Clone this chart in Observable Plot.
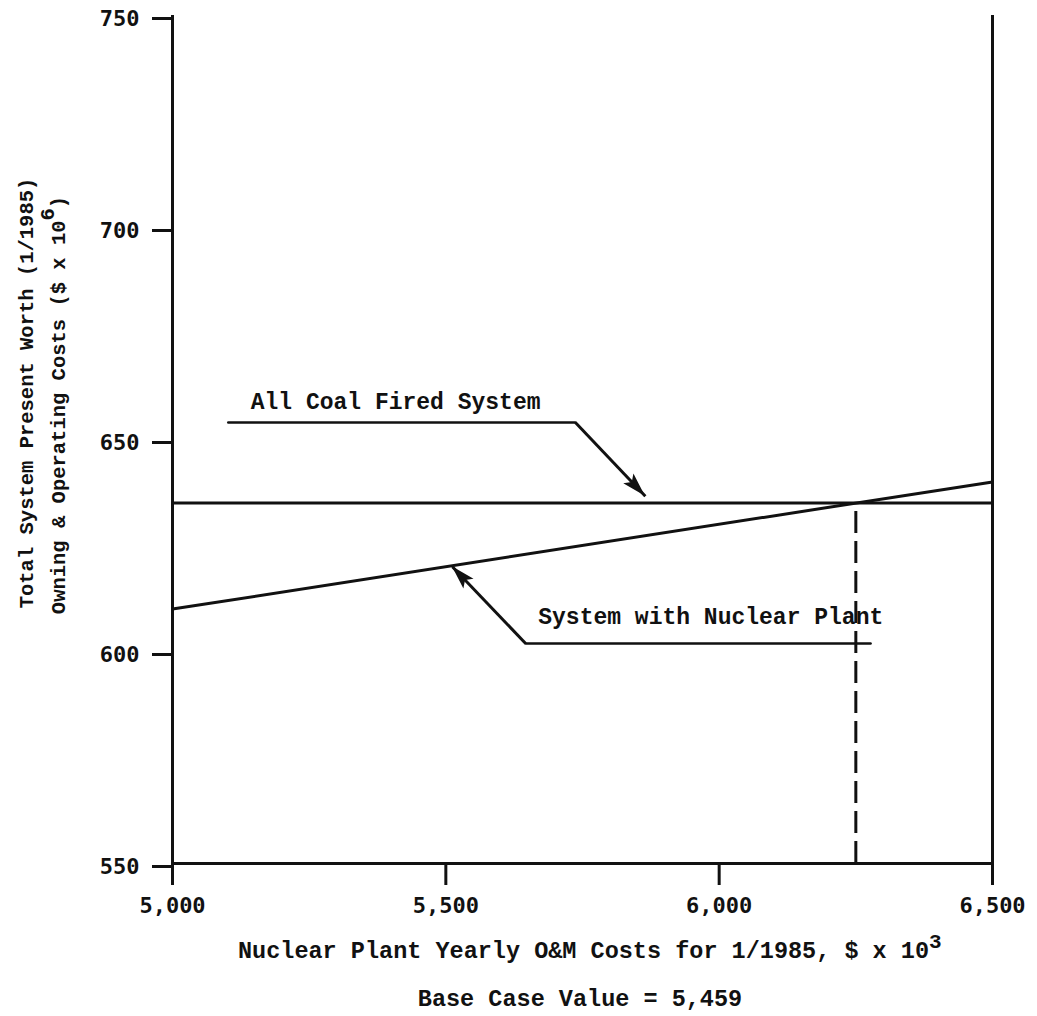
<!DOCTYPE html>
<html>
<head>
<meta charset="utf-8">
<script src="https://cdn.jsdelivr.net/npm/d3@7"></script>
<script src="https://cdn.jsdelivr.net/npm/@observablehq/plot@0.6"></script>
<style>
  html, body { margin: 0; padding: 0; background: #fff; }
  #chart svg { display: block; }
</style>
</head>
<body>
<div id="chart"></div>
<script>
// ---- data ----
const omCost = [5000, 6500];                 // Nuclear plant yearly O&M costs, $ x 10^3
const coalSystem = [635, 635];               // All coal fired system, $ x 10^6
const nuclearSystem = [610, 640];            // System with nuclear plant, $ x 10^6
const breakEven = {x: 6250, y: 635};
const xTicks = [5000, 5500, 6000, 6500];
const yTicks = [550, 600, 650, 700, 750];
const xDomain = [5000, 6500];
const yDomain = [550, 750];
const seriesLabels = ["All Coal Fired System", "System with Nuclear Plant"];
const xTitle = "Nuclear Plant Yearly O&M Costs for 1/1985, $ x 10";
const xTitleSup = "3";
const baseCase = "Base Case Value = 5,459";
const yTitle1 = "Total System Present Worth (1/1985)";
const yTitle2 = "Owning & Operating Costs ($ x 10";
const yTitle2Sup = "6";

// annotation anchors (data coordinates)
const coalLabel = {x: 5143, y: 657.3};
const coalLeader = [{x: 5102, y: 654.0}, {x: 5737, y: 654.0}];
const coalArrow = {x1: 5737, y1: 654.0, x2: 5865, y2: 636.6};
const nucLabel = {x: 5669, y: 606.5};
const nucLeader = [{x: 6277, y: 601.9}, {x: 5646, y: 601.9}];
const nucArrow = {x1: 5646, y1: 601.9, x2: 5512, y2: 620.0};
const arrows = [coalArrow, nucArrow];

const coalData = omCost.map((x, i) => ({x, y: coalSystem[i]}));
const nucData = omCost.map((x, i) => ({x, y: nuclearSystem[i]}));

const mono = "'Liberation Mono', 'DejaVu Sans Mono', monospace";
const tickFont = "'DejaVu Sans Mono', monospace";
const ink = "#111";

// filled arrowheads computed through the scales
const arrowHeads = (index, scales) => {
  const g = d3.create("svg:g").attr("fill", ink);
  for (const a of arrows) {
    const x1 = scales.x(a.x1), y1 = scales.y(a.y1), x2 = scales.x(a.x2), y2 = scales.y(a.y2);
    const dx = x2 - x1, dy = y2 - y1, L = Math.hypot(dx, dy);
    const ux = dx / L, uy = dy / L, len = 24, hw = 7;
    const bx = x2 - ux * len, by = y2 - uy * len;
    g.append("path").attr("d",
      `M${x2},${y2}L${bx - uy * hw},${by + ux * hw}L${bx + ux * 5},${by + uy * 5}L${bx + uy * hw},${by - ux * hw}Z`);
  }
  return g.node();
};

const titles = (index, scales, values, dims) => {
  const g = d3.create("svg:g").attr("fill", ink).attr("font-family", mono)
    .attr("font-weight", "bold").attr("text-anchor", "start");
  // x title
  const t = g.append("text").attr("x", 238).attr("y", dims.height - 58)
    .attr("font-size", 23.5).attr("text-anchor", "start");
  t.append("tspan").text(xTitle);
  t.append("tspan").attr("dy", "-0.5em").attr("font-size", 21).text(xTitleSup);
  g.append("text").attr("x", 580).attr("y", dims.height - 10).attr("font-size", 23.5)
    .attr("text-anchor", "middle").text(baseCase);
  // y titles
  g.append("text").attr("transform", "translate(33,393) rotate(-90)")
    .attr("font-size", 20.5).attr("text-anchor", "middle").text(yTitle1);
  const t2 = g.append("text").attr("transform", "translate(65,405) rotate(-90)")
    .attr("font-size", 20.5).attr("text-anchor", "middle");
  t2.append("tspan").text(yTitle2);
  t2.append("tspan").attr("dy", "-0.55em").text(yTitle2Sup);
  t2.append("tspan").attr("dy", "0.55em").text(")");
  return g.node();
};

const chart = Plot.plot({
  width: 1037,
  height: 1016,
  marginLeft: 172,
  marginRight: 45,
  marginTop: 15,
  marginBottom: 153,
  x: {domain: xDomain},
  y: {domain: yDomain},
  style: {background: "#fff", color: ink},
  marks: [
    Plot.axisY({ticks: yTicks, tickSize: 20, tickPadding: 13, fontSize: 22, fontFamily: tickFont,
      fontWeight: "bold", strokeWidth: 3, dy: 3, label: null, tickFormat: d => d}),
    Plot.axisX({ticks: xTicks, tickSize: 22, tickPadding: 12, fontSize: 22, fontFamily: tickFont,
      fontWeight: "bold", strokeWidth: 3, label: null, tickFormat: d3.format(",")}),
    Plot.ruleX([xDomain[0]], {y1: yDomain[0], y2: yDomain[1], strokeWidth: 3, stroke: ink}),
    Plot.ruleX([xDomain[1]], {y1: yDomain[0], y2: yDomain[1], strokeWidth: 3, stroke: ink}),
    Plot.ruleY([yDomain[0]], {x1: xDomain[0], x2: xDomain[1], strokeWidth: 3, stroke: ink}),
    Plot.ruleX([breakEven.x], {y1: yDomain[0], y2: breakEven.y, strokeWidth: 3, stroke: ink,
      strokeDasharray: "22,8"}),
    Plot.line(coalData, {x: "x", y: "y", stroke: ink, strokeWidth: 3}),
    Plot.line(nucData, {x: "x", y: "y", stroke: ink, strokeWidth: 3}),
    Plot.line(coalLeader, {x: "x", y: "y", stroke: ink, strokeWidth: 2.5}),
    Plot.line(nucLeader, {x: "x", y: "y", stroke: ink, strokeWidth: 2.5}),
    Plot.link(arrows, {x1: "x1", y1: "y1", x2: "x2", y2: "y2", stroke: ink, strokeWidth: 3}),
    arrowHeads,
    Plot.text([coalLabel], {x: "x", y: "y", text: () => seriesLabels[0], textAnchor: "start",
      lineAnchor: "bottom", fontSize: 23, fontFamily: mono, fontWeight: "bold", fill: ink}),
    Plot.text([nucLabel], {x: "x", y: "y", text: () => seriesLabels[1], textAnchor: "start",
      lineAnchor: "bottom", fontSize: 23, fontFamily: mono, fontWeight: "bold", fill: ink}),
    titles
  ]
});
document.getElementById("chart").appendChild(chart);
</script>
</body>
</html>
